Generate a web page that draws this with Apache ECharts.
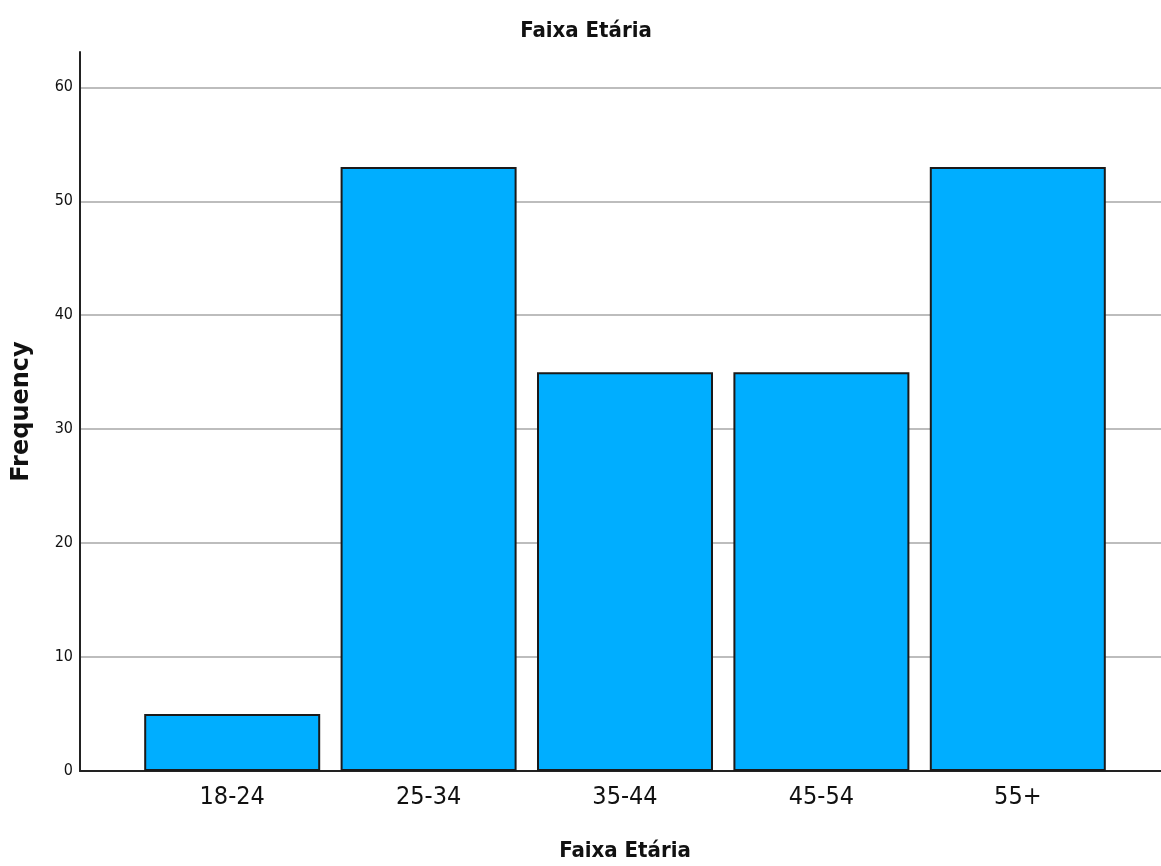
<!DOCTYPE html>
<html>
<head>
<meta charset="utf-8">
<script src="https://cdn.jsdelivr.net/npm/echarts@6/dist/echarts.min.js"></script>
<style>html,body{margin:0;padding:0;background:#fff}#c{width:1161px;height:866px}</style>
</head>
<body>
<div id="c"></div>
<script>
const categories = ['18-24', '25-34', '35-44', '45-54', '55+'];
const frequency = [5, 53, 35, 35, 53];
const yTicks = [0, 10, 20, 30, 40, 50, 60];

const chart = echarts.init(document.getElementById('c'), null, {renderer: 'canvas'});
const yMax = 63.1;
const condensed = '"DejaVu Sans Condensed", "DejaVu Sans", sans-serif';
chart.setOption({
  animation: false,
  backgroundColor: '#ffffff',
  title: {
    text: 'Faixa Etária',
    left: 581, top: 15, textAlign: 'center',
    textStyle: {fontFamily: condensed, fontWeight: 'bold', fontSize: 22, color: '#111'}
  },
  grid: [
    {left: 80, right: 0, top: 52, bottom: 95, containLabel: false, outerBoundsMode: 'none'},
    {left: 134, right: 45, top: 52, bottom: 95, containLabel: false, outerBoundsMode: 'none'}
  ],
  xAxis: [
    {gridIndex: 0, type: 'value', min: 0, max: 1,
     axisLine: {show: true, onZero: false, lineStyle: {color: '#222', width: 2}},
     axisTick: {show: false}, axisLabel: {show: false}, splitLine: {show: false}},
    {gridIndex: 1, type: 'category', data: categories,
     axisLine: {show: false}, axisTick: {show: false},
     axisLabel: {margin: 14, fontFamily: condensed, fontSize: 25, color: '#111'},
     name: 'Faixa Etária', nameLocation: 'middle', nameGap: 69,
     nameTextStyle: {fontFamily: condensed, fontWeight: 'bold', fontSize: 22, color: '#111'}}
  ],
  yAxis: [
    {gridIndex: 0, type: 'value', min: 0, max: yMax, interval: 10,
     axisLine: {show: true, lineStyle: {color: '#222', width: 2}},
     axisTick: {show: false},
     axisLabel: {showMaxLabel: false, margin: 7, fontFamily: condensed, fontSize: 16, color: '#111',
       formatter: v => yTicks.includes(v) ? String(v) : ''},
     splitLine: {show: true, lineStyle: {color: ['#bdbdbd','#bdbdbd','#bdbdbd','#bdbdbd','#bdbdbd','#bdbdbd','#bdbdbd','transparent'], width: 2}},
     name: 'Frequency', nameLocation: 'middle', nameGap: 46,
     nameTextStyle: {fontFamily: '"DejaVu Sans", sans-serif', fontWeight: 'bold', fontSize: 24, color: '#111'}},
    {gridIndex: 1, type: 'value', min: 0, max: yMax, interval: 10,
     axisLine: {show: false}, axisTick: {show: false}, axisLabel: {show: false}, splitLine: {show: false}}
  ],
  series: [{
    type: 'bar', xAxisIndex: 1, yAxisIndex: 1,
    data: frequency, barWidth: 176,
    itemStyle: {color: '#00AEFF', borderColor: '#1a1a1a', borderWidth: 2}
  }]
});
</script>
</body>
</html>
